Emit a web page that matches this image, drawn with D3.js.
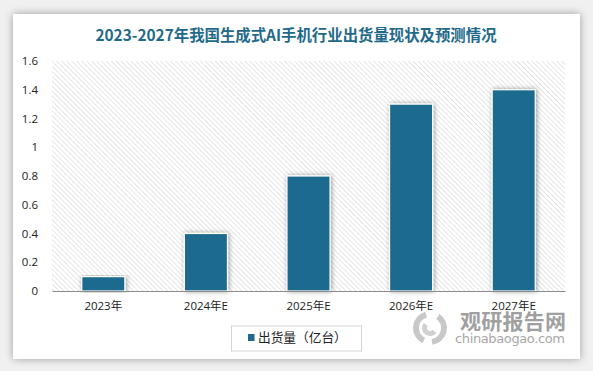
<!DOCTYPE html>
<html>
<head>
<meta charset="utf-8">
<script src="https://cdn.jsdelivr.net/npm/d3@7"></script>
<style>
  body { margin: 0; background: #f0f0f0; }
  svg { display: block; font-family: "Noto Sans CJK SC", "Open Sans", sans-serif; }
</style>
</head>
<body>
<svg id="chart" width="593" height="371"></svg>
<script>
const categories = ["2023年", "2024年E", "2025年E", "2026年E", "2027年E"];
const values = [0.1, 0.4, 0.8, 1.3, 1.4];
const yTicks = [0, 0.2, 0.4, 0.6, 0.8, 1, 1.2, 1.4, 1.6];
const title = "2023-2027年我国生成式AI手机行业出货量现状及预测情况";
const seriesName = "出货量（亿台）";

const svg = d3.select("#chart");
const defs = svg.append("defs");

// card shadow
const sh = defs.append("filter").attr("id", "cardShadow")
    .attr("x", "-5%").attr("y", "-5%").attr("width", "110%").attr("height", "110%");
sh.append("feGaussianBlur").attr("in", "SourceAlpha").attr("stdDeviation", 4);
sh.append("feOffset").attr("dx", 0).attr("dy", 0);
sh.append("feComponentTransfer").append("feFuncA").attr("type", "linear").attr("slope", 0.35);
let m = sh.append("feMerge");
m.append("feMergeNode");
m.append("feMergeNode").attr("in", "SourceGraphic");

// bar shadow
const bs = defs.append("filter").attr("id", "barShadow")
    .attr("x", "-30%").attr("y", "-10%").attr("width", "160%").attr("height", "120%");
bs.append("feGaussianBlur").attr("in", "SourceAlpha").attr("stdDeviation", 2.5);
bs.append("feOffset").attr("dx", 1).attr("dy", 0);
bs.append("feComponentTransfer").append("feFuncA").attr("type", "linear").attr("slope", 0.4);
m = bs.append("feMerge");
m.append("feMergeNode");
m.append("feMergeNode").attr("in", "SourceGraphic");

// hatch pattern for plot background (lines running top-left -> bottom-right)
const pat = defs.append("pattern").attr("id", "hatch")
    .attr("patternUnits", "userSpaceOnUse")
    .attr("width", 3.5).attr("height", 3.5)
    .attr("patternTransform", "rotate(-45)");
pat.append("rect").attr("width", 3.5).attr("height", 3.5).attr("fill", "#ffffff");
pat.append("line").attr("x1", 0).attr("y1", 0).attr("x2", 0).attr("y2", 3.5)
    .attr("stroke", "#d2d2d2").attr("stroke-width", 1.1);

// card
svg.append("rect")
    .attr("x", 13).attr("y", 14).attr("width", 567).attr("height", 345)
    .attr("fill", "#ffffff")
    .attr("filter", "url(#cardShadow)");

svg.append("text")
    .attr("x", 296).attr("y", 41)
    .attr("text-anchor", "middle")
    .attr("fill", "#1f6a8a")
    .attr("font-size", 15.4).attr("font-weight", "bold")
    .text(title);

const margin = {top: 61, left: 52, right: 565, bottom: 291};

const x = d3.scaleBand()
    .domain(categories)
    .range([margin.left, margin.right])
    .paddingInner(0.58).paddingOuter(0.29);

const y = d3.scaleLinear()
    .domain([0, 1.6])
    .range([margin.bottom, margin.top]);

svg.append("rect")
    .attr("x", margin.left).attr("y", margin.top)
    .attr("width", margin.right - margin.left)
    .attr("height", margin.bottom - margin.top)
    .attr("fill", "url(#hatch)");

// y axis labels
const yAxis = d3.axisLeft(y).tickValues(yTicks).tickSize(0).tickPadding(14)
    .tickFormat(d => d3.format("")(d));
const gy = svg.append("g")
    .attr("transform", `translate(${margin.left},0)`)
    .call(yAxis);
gy.select(".domain").remove();
gy.selectAll("text").attr("font-size", 11.5).attr("fill", "#222")
    .attr("font-family", "'Open Sans', sans-serif");

// bars
svg.append("g").selectAll("rect")
    .data(values)
    .join("rect")
    .attr("x", (d, i) => x(categories[i]))
    .attr("y", d => y(d))
    .attr("width", x.bandwidth())
    .attr("height", d => y(0) - y(d))
    .attr("fill", "#1d6a8e")
    .attr("stroke", "#ffffff")
    .attr("stroke-width", 1.2)
    .attr("filter", "url(#barShadow)");

// watermark (sits behind the x labels, as in the source)
const wm = svg.append("g");
wm.append("path")
    .attr("d", d3.arc()({innerRadius: 11, outerRadius: 17, startAngle: 0.6, endAngle: 3.0}))
    .attr("transform", "translate(430,328)").attr("fill", "#c8c8c8");
wm.append("path")
    .attr("d", d3.arc()({innerRadius: 11, outerRadius: 17, startAngle: 3.6, endAngle: 6.0}))
    .attr("transform", "translate(430,328)").attr("fill", "#c8c8c8");
wm.append("path")
    .attr("d", d3.arc()({innerRadius: 3, outerRadius: 8, startAngle: 2.2, endAngle: 5.4}))
    .attr("transform", "translate(430,328)").attr("fill", "#d0d0d0");
wm.append("text").attr("x", 460).attr("y", 329)
    .attr("font-size", 21).attr("font-weight", "bold").attr("fill", "#a0a0a0")
    .attr("textLength", 106)
    .text("观研报告网");
wm.append("text").attr("x", 455).attr("y", 343)
    .attr("font-size", 13).attr("fill", "#a8a8a8")
    .attr("textLength", 110)
    .attr("font-family", "'DejaVu Sans', sans-serif")
    .text("chinabaogao.com");

// x axis
const xAxis = d3.axisBottom(x).tickSize(0).tickPadding(11);
const gx = svg.append("g")
    .attr("transform", `translate(0,${margin.bottom})`)
    .call(xAxis);
gx.select(".domain").attr("stroke", "#8c8c8c").attr("stroke-width", 1.2);
gx.selectAll("text").attr("font-size", 11.5).attr("fill", "#222")
    .attr("font-family", "'Open Sans', 'Noto Sans CJK SC', sans-serif");

// legend
const lg = svg.append("g");
lg.append("rect")
    .attr("x", 231.5).attr("y", 326).attr("width", 130).attr("height", 25)
    .attr("fill", "#ffffff").attr("stroke", "#d4d4d4");
lg.append("rect")
    .attr("x", 248).attr("y", 334).attr("width", 6.5).attr("height", 7)
    .attr("fill", "#1d6a8e");
lg.append("text")
    .attr("x", 258).attr("y", 342)
    .attr("font-size", 12.7).attr("fill", "#222")
    .text(seriesName);
</script>
</body>
</html>
